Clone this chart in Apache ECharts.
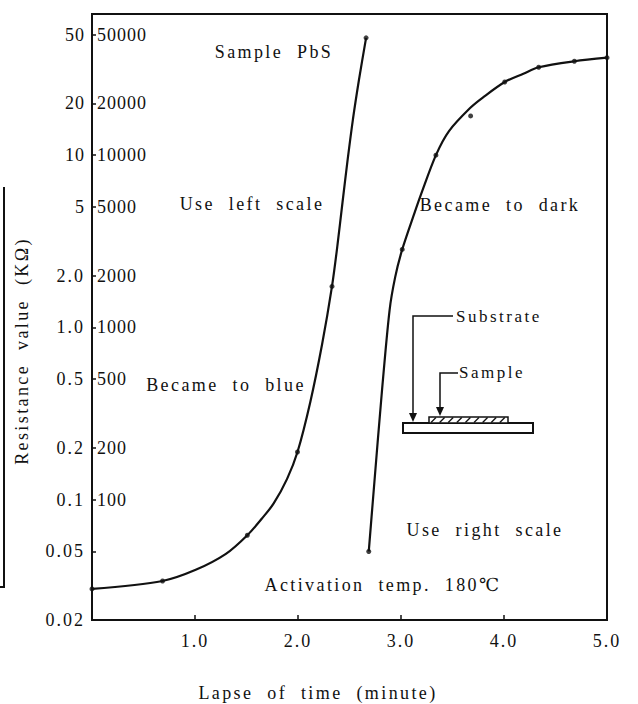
<!DOCTYPE html>
<html>
<head>
<meta charset="utf-8">
<script src="https://cdn.jsdelivr.net/npm/echarts@6/dist/echarts.min.js"></script>
<style>
  html, body { margin: 0; padding: 0; background: #fff; }
  #chart { width: 638px; height: 704px; }
</style>
</head>
<body>
<div id="chart"></div>
<script>
// Time axis (minutes)
const timeMin = 0;
const timeMax = 5;
const timeStep = 1;

// Left scale (kΩ): tick values and printed labels
const leftTickValues = [0.02, 0.05, 0.1, 0.2, 0.5, 1, 2, 5, 10, 20, 50];
const leftTickLabels = ['0.02', '0.05', '0.1', '0.2', '0.5', '1.0', '2.0', '5', '10', '20', '50'];
const leftMin = 0.02;
const leftMax = 66;

// Right scale: same decades, 1000 times larger
const rightTickValues = [100, 200, 500, 1000, 2000, 5000, 10000, 20000, 50000];
const rightMin = 20;
const rightMax = 66000;

// Curve read on the left scale ("Became to blue")
const blueTime  = [0, 0.685, 1.007, 1.30, 1.508, 1.65, 1.764, 1.894, 1.995, 2.119, 2.234, 2.330, 2.384, 2.432, 2.482, 2.533, 2.592, 2.661];
const blueValue = [0.0303, 0.0337, 0.0391, 0.0484, 0.0621, 0.0777, 0.095, 0.132, 0.189, 0.368, 0.798, 1.73, 3.03, 5.31, 9.42, 16.1, 27.4, 48];
const blueDotTime  = [0, 0.685, 1.508, 1.995, 2.330, 2.661];
const blueDotValue = [0.0303, 0.0337, 0.0621, 0.189, 1.73, 48];

// Curve read on the right scale ("Became to dark")
const darkTime  = [2.687, 2.735, 2.813, 2.889, 2.943, 3.012, 3.129, 3.197, 3.339, 3.466, 3.676, 3.794, 4.007, 4.188, 4.337, 4.683, 5.0];
const darkValue = [50, 113, 413, 1257, 1952, 2835, 4580, 5980, 10000, 13800, 18900, 21600, 26600, 29700, 32400, 35100, 36800];
const darkDotTime  = [2.687, 3.012, 3.339, 3.676, 4.007, 4.337, 4.683, 5.0];
const darkDotValue = [50, 2835, 10000, 16900, 26600, 32400, 35100, 36800];

const INK = '#111';
const SERIF = '"Liberation Serif", "DejaVu Serif", "Noto Sans CJK JP", serif';

function pairs(xs, ys) { return xs.map((x, i) => [x, ys[i]]); }

function leftLabel(v) {
  for (let i = 0; i < leftTickValues.length; i++) {
    if (Math.abs(Math.log10(v) - Math.log10(leftTickValues[i])) < 1e-3) return leftTickLabels[i];
  }
  return '';
}

function note(text, x, y, size, align) {
  return {
    type: 'text', x: x, y: y, silent: true,
    style: {
      text: text, fill: INK, font: size + 'px ' + SERIF,
      align: align || 'center', verticalAlign: 'middle',
      textAlign: align || 'center', textVerticalAlign: 'middle'
    }
  };
}

// Substrate / sample sketch
const sketch = [];
sketch.push({ type: 'rect', shape: { x: 403, y: 423, width: 130, height: 10 },
  style: { fill: '#fff', stroke: INK, lineWidth: 2 } });
sketch.push({ type: 'rect', shape: { x: 429, y: 417, width: 79, height: 6 },
  style: { fill: '#fff', stroke: INK, lineWidth: 1.5 } });
for (let i = 0; i < 9; i++) {
  sketch.push({ type: 'line', shape: { x1: 431 + 8.6 * i, y1: 422.5, x2: 436 + 8.6 * i, y2: 417.5 },
    style: { stroke: INK, lineWidth: 1.3 } });
}
sketch.push({ type: 'polyline', shape: { points: [[453, 316], [413, 316], [413, 414]] },
  style: { stroke: INK, lineWidth: 1.5, fill: null } });
sketch.push({ type: 'polygon', shape: { points: [[409, 413], [417, 413], [413, 422]] },
  style: { fill: INK } });
sketch.push({ type: 'polyline', shape: { points: [[458, 373], [440, 373], [440, 408]] },
  style: { stroke: INK, lineWidth: 1.5, fill: null } });
sketch.push({ type: 'polygon', shape: { points: [[436, 407], [444, 407], [440, 416]] },
  style: { fill: INK } });
sketch.push(note('Substrate', 456, 316, 17, 'left'));
sketch.push(note('Sample', 459, 372, 17, 'left'));

const chart = echarts.init(document.getElementById('chart'), null, { renderer: 'svg' });

chart.setOption({
  animation: false,
  backgroundColor: '#fff',
  grid: { left: 92, right: 31, top: 14, bottom: 84, show: true, borderColor: INK, borderWidth: 2, backgroundColor: 'transparent' },
  xAxis: {
    type: 'value', min: timeMin, max: timeMax, interval: timeStep,
    axisLine: { show: false, onZero: false },
    axisTick: { show: true, inside: true, length: 5, lineStyle: { color: INK, width: 1.5 } },
    axisLabel: { margin: 12, fontSize: 18, color: INK, fontFamily: SERIF,
      formatter: v => (v === timeMin ? '' : v.toFixed(1)) },
    splitLine: { show: false }
  },
  yAxis: [
    {
      type: 'log', logBase: 10, min: leftMin, max: leftMax, position: 'left',
      axisLine: { show: false },
      axisTick: { show: true, inside: true, length: 4, customValues: leftTickValues, lineStyle: { color: INK, width: 1.5 } },
      axisLabel: { customValues: leftTickValues, margin: 7, fontSize: 18, color: INK, fontFamily: SERIF, formatter: leftLabel },
      splitLine: { show: false }, minorTick: { show: false }
    },
    {
      type: 'log', logBase: 10, min: rightMin, max: rightMax, position: 'left', offset: 0,
      axisLine: { show: false },
      axisTick: { show: false },
      axisLabel: { customValues: rightTickValues, inside: true, margin: 5, fontSize: 18, color: INK, fontFamily: SERIF,
        formatter: v => String(Math.round(v)) },
      splitLine: { show: false }, minorTick: { show: false }
    }
  ],
  series: [
    { name: 'Became to blue', type: 'line', yAxisIndex: 0, data: pairs(blueTime, blueValue),
      smooth: 0.3, showSymbol: false, lineStyle: { color: INK, width: 2.2 } },
    { type: 'scatter', yAxisIndex: 0, data: pairs(blueDotTime, blueDotValue),
      symbolSize: 5, itemStyle: { color: INK } },
    { name: 'Became to dark', type: 'line', yAxisIndex: 1, data: pairs(darkTime, darkValue),
      smooth: 0.3, showSymbol: false, lineStyle: { color: INK, width: 2.2 } },
    { type: 'scatter', yAxisIndex: 1, data: pairs(darkDotTime, darkDotValue),
      symbolSize: 5, itemStyle: { color: INK } }
  ],
  graphic: [
    // margin rule at the far left
    { type: 'line', shape: { x1: 4, y1: 187, x2: 4, y2: 587 }, style: { stroke: INK, lineWidth: 2 } },
    { type: 'line', shape: { x1: 0, y1: 587, x2: 5, y2: 587 }, style: { stroke: INK, lineWidth: 2 } },
    note('Sample PbS', 274, 52, 18),
    note('Use left scale', 252, 204, 18),
    note('Became to dark', 500, 205, 18),
    note('Became to blue', 226, 385, 18),
    note('Use right scale', 485, 530, 18),
    note('Activation temp. 180℃', 383, 585, 18),
    note('Lapse of time (minute)', 318, 693, 18),
    Object.assign(note('Resistance value (KΩ)', 22, 351, 18), { rotation: Math.PI / 2 })
  ].concat(sketch)
});

// Typewriter-like spacing for the printed text
function spaceText() {
  const svg = document.querySelector('#chart svg');
  if (!svg) return;
  const tickSet = new Set(leftTickLabels.concat(rightTickValues.map(String), ['1.0', '2.0', '3.0', '4.0', '5.0']));
  svg.querySelectorAll('text').forEach(t => {
    const s = t.textContent;
    if (tickSet.has(s)) {
      t.style.letterSpacing = (s.indexOf('.') >= 0 ? 2 : 1) + 'px';
    } else if (s === 'Substrate' || s === 'Sample') {
      t.style.letterSpacing = '2.5px';
    } else {
      t.style.letterSpacing = '2.4px';
      t.style.wordSpacing = '7px';
    }
  });
}
chart.on('finished', spaceText);
spaceText();
</script>
</body>
</html>
